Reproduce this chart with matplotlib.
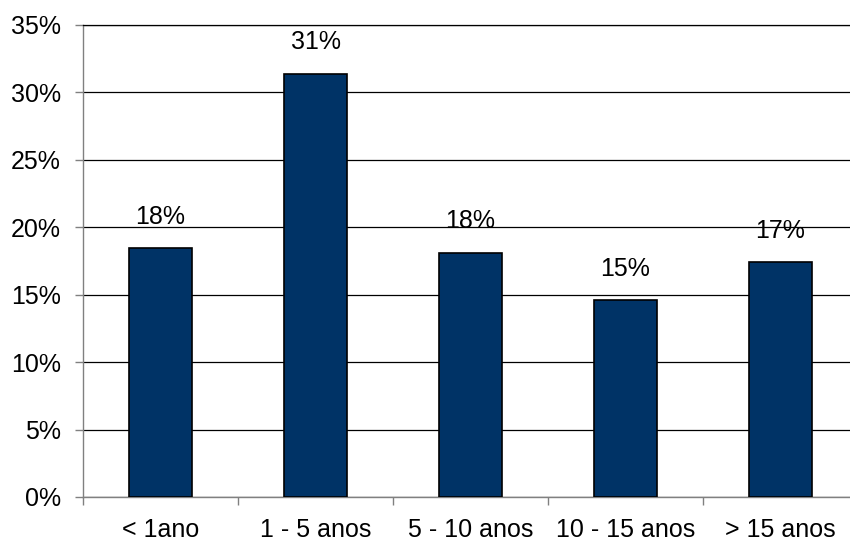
import matplotlib.pyplot as plt
import numpy as np
from matplotlib.ticker import FixedLocator, PercentFormatter

categories = ["< 1ano", "1 - 5 anos", "5 - 10 anos", "10 - 15 anos", "> 15 anos"]
shares = [18.45, 31.4, 18.1, 14.6, 17.4]  # percent of respondents

BAR_COLOR = "#003366"
AXIS_GRAY = "#808080"
FONT_SIZE = 18

plt.rcParams["font.family"] = ["Liberation Sans", "DejaVu Sans"]

fig = plt.figure(figsize=(8.5, 5.43), dpi=100)
# plot area runs slightly past the right edge of the canvas
ax = fig.add_axes([83 / 850, 46 / 543, 775 / 850, 472 / 543])

x = np.arange(len(categories)) + 0.5
bars = ax.bar(x, shares, width=0.41, color=BAR_COLOR, edgecolor="black",
              linewidth=1.2, zorder=3)

for bar, value in zip(bars, shares):
    ax.annotate(f"{value:.0f}%", (bar.get_x() + bar.get_width() / 2, value),
                xytext=(0, 14), textcoords="offset points",
                ha="center", va="bottom", fontsize=FONT_SIZE, zorder=4)

ax.set_xlim(0, len(categories))
ax.set_ylim(0, 35)
ax.set_yticks(np.arange(0, 36, 5))
ax.yaxis.set_major_formatter(PercentFormatter(decimals=0))
ax.yaxis.grid(True, color="black", linewidth=0.9, zorder=0)

# boundary ticks between categories, labels centred under bars
ax.xaxis.set_major_locator(FixedLocator(np.arange(len(categories) + 1)))
ax.xaxis.set_major_formatter(plt.NullFormatter())
ax.xaxis.set_minor_locator(FixedLocator(x))
ax.set_xticklabels(categories, minor=True)
ax.tick_params(axis="x", which="minor", length=0, pad=15, labelsize=FONT_SIZE)
ax.tick_params(axis="x", which="major", length=6, color=AXIS_GRAY, width=1)
ax.tick_params(axis="y", length=6, color=AXIS_GRAY, width=1, pad=10,
               labelsize=FONT_SIZE)

for side in ("left", "bottom"):
    ax.spines[side].set_color(AXIS_GRAY)
    ax.spines[side].set_linewidth(1)
ax.spines["top"].set_color("black")
ax.spines["top"].set_linewidth(0.9)
ax.spines["right"].set_visible(False)

fig.savefig("out.png", dpi=100)
